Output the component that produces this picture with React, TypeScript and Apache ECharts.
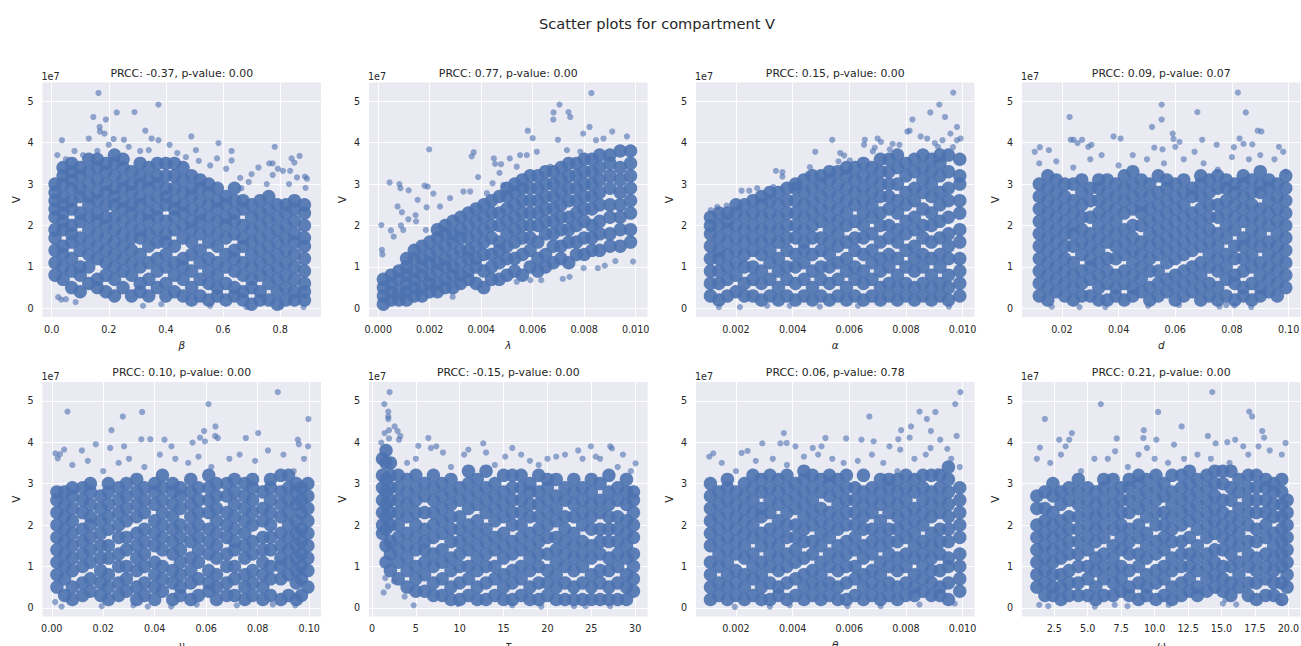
import React, { useEffect, useRef } from "react";
import * as echarts from "echarts";

type Col = [number, number[]];
type Pt = [number, number];

const mainTitle = "Scatter plots for compartment V";
const panelTitles = [
  "PRCC: -0.37, p-value: 0.00", "PRCC: 0.77, p-value: 0.00", "PRCC: 0.15, p-value: 0.00", "PRCC: 0.09, p-value: 0.07",
  "PRCC: 0.10, p-value: 0.00", "PRCC: -0.15, p-value: 0.00", "PRCC: 0.06, p-value: 0.78", "PRCC: 0.21, p-value: 0.00",
];
const xNames = ["β", "λ", "α", "d", "ν", "τ", "θ", "ω"];
const yTicks = [0, 1, 2, 3, 4, 5];
const xTicks = [
  [0, 0.2, 0.4, 0.6, 0.8],
  [0, 0.002, 0.004, 0.006, 0.008, 0.01],
  [0.002, 0.004, 0.006, 0.008, 0.01],
  [0.02, 0.04, 0.06, 0.08, 0.1],
  [0, 0.02, 0.04, 0.06, 0.08, 0.1],
  [0, 5, 10, 15, 20, 25, 30],
  [0.002, 0.004, 0.006, 0.008, 0.01],
  [2.5, 5, 7.5, 10, 12.5, 15, 17.5, 20],
];
const xDecimals = [1, 3, 3, 2, 2, 0, 3, 1];
const xRanges: Pt[] = [[-0.032, 0.943], [-0.00036, 0.01046], [0.00059, 0.01042], [0.0059, 0.1042], [-0.0036, 0.1046], [-0.34, 31.4], [0.00059, 0.01042], [0.09, 20.9]];

// Visibly separate points (V in units of 1e7)
const betaEdge: Pt[] = [[.164,5.2],[.146,4.62],[.168,4.38],[.169,4.27],[.185,4.22],[.19,4.56],[.228,4.73],[.29,4.74],[.374,4.92],[.328,4.29],[.35,4.1],[.374,4.06],[.036,4.06],[.13,4.1],[.217,4.09],[.253,4.07],[.489,4.15],[.584,3.99],[.63,3.8],[.781,3.9],[.868,3.68],[.84,3.62],[.85,3.52],[.762,3.5],[.774,3.5],[.724,3.4],[.792,3.37],[.81,3.32],[.835,3.32],[.7,3.24],[.774,3.22],[.887,3.18],[.859,3.16],[.894,3.13],[.831,3],[.753,3],[.889,2.91],[.505,3.82],[.413,3.95],[.515,3.56],[.555,3.45],[.63,3.57],[.579,3.62],[.611,3.37],[.664,2.9],[.023,.27],[.034,.21],[.084,.15],[.05,.22],[.32,.06],[.384,.1],[.555,.06],[.682,.03],[.803,.04],[.882,.03],[.02,3.7],[.05,3.6],[.08,3.8],[.11,3.7],[.16,3.8],[.2,3.95],[.27,3.9],[.31,3.8],[.34,3.82],[.44,3.75],[.47,3.65],[.66,3.15],[.69,3.05]];
const lambdaEdge: Pt[] = [[.00828,5.2],[.00704,4.92],[.00681,4.73],[.0068,4.56],[.00739,4.74],[.00746,4.62],[.00581,4.29],[.006,4.11],[.00698,4.07],[.00821,4.38],[.00796,4.22],[.00909,4.27],[.00966,4.15],[.00846,4.06],[.00875,4.1],[.00198,3.84],[.00371,3.77],[.00363,3.67],[.00449,3.62],[.00454,3.49],[.00477,3.48],[.00511,3.62],[.00388,3.17],[.00471,3.27],[.00044,3.04],[.00082,3],[.00086,2.9],[.00118,2.85],[.0018,2.96],[.00192,2.94],[.00214,2.77],[.00153,2.62],[.00075,2.46],[.00092,2.32],[.00188,2.44],[.00012,2.01],[.00049,1.88],[.0006,1.73],[.00088,2],[.00097,1.89],[.00117,2.15],[.00147,2.1],[.00145,2.25],[.00014,1.41],[.00016,1.3],[.00289,.28],[.00538,.64],[.00591,.68],[.00717,.71],[.0099,1.13],[.00921,1.14],[.0088,1.03],[.00853,.97],[.00798,.97],[.00743,.76],[.00633,.68],[.00185,1.89],[.0024,2.46],[.00279,2.66],[.00331,2.82],[.00357,2.82],[.00422,2.78],[.00444,3.02],[.00486,2.98],[.00538,3.42],[.00551,3.7],[.00577,3.7],[.00616,3.78],[.00668,3.42],[.00733,3.82],[.00785,3.78]];
const alphaEdge: Pt[] = [[.00967,5.21],[.00918,4.92],[.00886,4.73],[.00938,4.62],[.00823,4.56],[.0098,4.38],[.00813,4.29],[.00805,4.27],[.00957,4.22],[.00852,4.15],[.00875,4.1],[.00929,4.06],[.00902,3.99],[.00913,3.9],[.0054,4.07],[.00655,4.07],[.00652,3.95],[.007,4.1],[.00712,4.02],[.0069,3.88],[.00683,3.79],[.00753,3.97],[.00777,3.95],[.00743,3.84],[.0048,3.78],[.00568,3.75],[.00582,3.69],[.00562,3.55],[.00602,3.57],[.00461,3.41],[.00341,3.32],[.00364,3.29],[.00364,3.18],[.00454,3.24],[.00332,2.93],[.00275,2.9],[.0022,2.84],[.00247,2.84],[.00134,2.45],[.00167,2.48],[.00111,2.37],[.00993,4.1],[.0098,4.06],[.00966,3.89],[.0014,.03],[.00214,.03],[.0039,.06],[.00496,.04],[.00631,.06],[.00952,.04],[.0031,.06]];
const dEdge: Pt[] = [[.0821,5.21],[.0552,4.92],[.0678,4.74],[.0849,4.73],[.0227,4.62],[.0552,4.56],[.0518,4.38],[.0891,4.29],[.0904,4.27],[.0591,4.22],[.0594,4.09],[.0382,4.15],[.0407,4.1],[.0231,4.07],[.0241,4.07],[.0271,4.07],[.0255,3.99],[.0304,3.95],[.0293,3.9],[.0122,3.89],[.0104,3.78],[.0154,3.82],[.0615,4.02],[.0695,4.07],[.0827,4.1],[.0841,3.97],[.0872,3.96],[.0746,3.95],[.0966,3.9],[.0981,3.78],[.0807,3.89],[.0526,3.88],[.0555,3.84],[.0668,3.78],[.06,3.9],[.0756,.04],[.078,.08],[.0262,.03],[.0164,.04],[.0353,.03],[.0504,.06],[.0613,.08],[.0809,.07],[.0868,.03],[.012,3.5],[.018,3.55],[.024,3.4],[.03,3.6],[.034,3.7],[.04,3.45],[.045,3.7],[.05,3.6],[.056,3.5],[.063,3.6],[.07,3.5],[.075,3.35],[.08,3.65],[.086,3.6],[.09,3.7],[.095,3.6],[.099,3.3]];
const nuEdge: Pt[] = [[.0878,5.21],[.0609,4.92],[.0061,4.74],[.0351,4.73],[.0276,4.62],[.0997,4.56],[.0636,4.38],[.0232,4.29],[.0592,4.27],[.0802,4.22],[.0635,4.15],[.0645,4.1],[.0576,4.11],[.0754,4.1],[.0956,4.06],[.0348,4.07],[.0383,4.07],[.0438,4.06],[.0595,4.02],[.0547,3.99],[.096,3.95],[.0171,3.95],[.0281,3.9],[.0465,3.9],[.0996,3.9],[.0227,3.86],[.0048,3.82],[.0117,3.8],[.0014,3.73],[.0032,3.71],[.0023,3.61],[.0013,.14],[.0038,.03],[.0194,.04],[.0373,.03],[.0464,.03],[.0719,.06],[.0946,.06],[.0317,.06],[.0563,.08],[.0859,.08],[.008,3.45],[.014,3.55],[.02,3.3],[.026,3.5],[.03,3.6],[.036,3.4],[.042,3.7],[.048,3.6],[.053,3.5],[.057,3.65],[.062,3.4],[.069,3.6],[.073,3.7],[.079,3.55],[.084,3.8],[.09,3.7],[.094,3.3],[.098,3.6]];
const tauEdge: Pt[] = [[2.01,5.21],[1.41,4.92],[1.86,4.74],[1.86,4.62],[1.86,4.56],[2.58,4.38],[1.94,4.29],[2.92,4.27],[1.44,4.22],[3.23,4.15],[1.94,4.09],[3.08,4.06],[1.06,3.99],[6.42,4.1],[12.68,3.97],[5.28,3.91],[24.95,3.9],[27.15,3.9],[15.99,3.86],[27.35,3.85],[6.72,3.86],[7.33,3.9],[8.09,3.75],[10.98,3.82],[15.19,3.65],[28.6,3.7],[30.04,3.49],[1.33,.37],[4.75,.06],[1.82,.52],[9.8,.09],[19.29,.03],[27.15,.04],[15.99,.06],[23.02,.04],[24.34,.04],[3.72,.27],[2.51,.64],[1.52,.72],[4,3.5],[5,3.6],[9,3.4],[10.5,3.7],[13,3.75],[14,3.45],[17,3.7],[18,3.55],[19,3.45],[20,3.6],[21,3.65],[22,3.7],[23.5,3.8],[24,3.6],[25.5,3.65],[26,3.6],[28,3.4],[29.5,3.3]];
const thetaEdge: Pt[] = [[.00992,5.21],[.00974,4.92],[.00848,4.74],[.00904,4.73],[.00671,4.62],[.00874,4.56],[.00818,4.38],[.00783,4.29],[.00888,4.27],[.00369,4.22],[.00979,4.15],[.00813,4.11],[.00921,4.06],[.00773,4.07],[.00589,4.09],[.00516,4.1],[.00643,4.06],[.00686,4.02],[.00293,3.97],[.00357,3.97],[.00379,3.98],[.0041,3.9],[.00471,3.86],[.00502,3.9],[.00742,3.9],[.00887,3.86],[.0078,3.82],[.00946,3.84],[.00106,3.65],[.0012,3.73],[.0022,3.74],[.00241,3.79],[.00711,.04],[.00972,.1],[.00848,.08],[.00594,.04],[.00196,.02],[.0039,.06],[.0032,.03],[.0015,3.5],[.002,3.3],[.0027,3.55],[.0033,3.6],[.0038,3.45],[.0044,3.65],[.0049,3.7],[.0054,3.6],[.0058,3.5],[.0063,3.55],[.0068,3.7],[.0072,3.5],[.0077,3.3],[.0083,3.6],[.0087,3.7],[.0091,3.3],[.0096,3.6],[.0099,3.4]];
const omegaEdge: Pt[] = [[14.31,5.21],[5.98,4.92],[10.26,4.73],[17.07,4.74],[17.29,4.62],[1.8,4.56],[12.02,4.38],[9.19,4.29],[18.04,4.27],[3.82,4.22],[13.98,4.15],[18.18,4.11],[7.17,4.09],[2.87,4.06],[3.62,4.06],[9.16,4.1],[10.13,4.06],[16.02,4.06],[15.43,4],[14.56,3.97],[19.78,3.98],[11.45,3.94],[1.43,3.87],[9.43,3.86],[3.35,3.9],[7.05,3.78],[16.62,3.9],[17.76,3.9],[15.1,.1],[16.1,.08],[15.3,.2],[2.05,.04],[5.53,.03],[7.97,.04],[1.38,.07],[11.05,.07],[7.02,.07],[19.45,.13],[1.2,3.6],[2.2,3.5],[3,3.7],[4.5,3.3],[5.5,3.6],[6.5,3.6],[8,3.4],[8.8,3.7],[10,3.6],[11,3.5],[12.2,3.6],[13.2,3.7],[14.2,3.6],[15.6,3.5],[17,3.7],[18.6,3.8],[19.5,3.7]];

// Dense areas: individual points cannot be told apart there, so these are
// columns of rough readings of where the cloud lies (V in units of 1e7)
const betaBody: Col[] = [
[.012,[.8,1.1,1.4,1.7,1.9,2.2,2.4,2.6,2.8,3]],[.04,[.7,1,1.3,1.5,1.9,2.1,2.3,2.5,2.7,3,3.2,3.4]],[.07,[.5,.9,1.2,1.6,1.8,2,2.4,2.6,2.9,3.1,3.3,3.5]],[.1,[.4,.8,1,1.4,1.7,2.1,2.3,2.7,2.9,3.2,3.4]],[.13,[.6,1,1.3,1.6,1.9,2.2,2.5,2.7,3,3.3,3.6]],[.16,[.5,.7,1.2,1.5,1.8,2.1,2.3,2.6,2.8,3.1,3.4,3.6]],[.19,[.4,.8,1.1,1.4,1.7,2,2.2,2.5,2.8,3,3.3,3.5]],[.22,[.3,.7,1,1.3,1.6,1.9,2.2,2.5,2.7,2.9,3.2,3.5,3.7]],[.25,[.5,.9,1.2,1.5,1.8,2.1,2.4,2.6,2.9,3.1,3.4,3.6]],[.28,[.3,.8,1.1,1.4,1.7,2,2.3,2.5,2.8,3,3.3]],[.31,[.4,.6,1,1.3,1.7,1.9,2.2,2.5,2.7,3,3.2,3.5]],[.34,[.3,.7,1.1,1.5,1.8,2.1,2.3,2.6,2.9,3.1,3.4]],[.37,[.5,.9,1.2,1.6,1.9,2.2,2.4,2.7,3,3.2,3.5]],[.4,[.3,.6,1,1.3,1.6,1.8,2.1,2.5,2.7,2.9,3.2,3.5]],[.43,[.4,.8,1.1,1.5,1.9,2.2,2.4,2.6,2.9,3.2,3.5]],[.46,[.3,.7,1,1.2,1.7,2,2.3,2.5,2.8,3.1,3.4]],[.49,[.2,.5,.9,1.3,1.6,1.9,2.1,2.4,2.7,2.9,3.2]],[.52,[.3,.7,1.1,1.4,1.8,2.1,2.3,2.6,2.9,3.1]],[.55,[.2,.6,.9,1.2,1.6,1.9,2.2,2.5,2.8,3]],[.58,[.3,.5,.8,1.1,1.5,1.8,2.1,2.4,2.6,2.9]],[.61,[.2,.6,1,1.3,1.7,2,2.2,2.5,2.7]],[.64,[.3,.5,.9,1.2,1.4,1.8,2.1,2.3,2.6,2.9]],[.67,[.2,.4,.8,1.1,1.5,1.7,2,2.4,2.6]],[.7,[.1,.5,.7,1,1.3,1.6,1.9,2.2,2.5]],[.73,[.2,.4,.8,1.1,1.4,1.7,2,2.3,2.6]],[.76,[.2,.6,.9,1.2,1.5,1.8,2.1,2.4,2.7]],[.79,[.1,.4,.7,1,1.3,1.6,1.9,2.2,2.5]],[.82,[.2,.5,.8,1.1,1.4,1.7,2,2.3,2.5]],[.85,[.2,.4,.7,1,1.3,1.6,1.8,2.1,2.4,2.6]],[.885,[.2,.4,.6,.9,1.2,1.5,1.7,2,2.3,2.5]]];
const lambdaBody: Col[] = [
[.0002,[.1,.3,.5,.7]],[.0005,[.2,.4,.6,.8]],[.0008,[.2,.4,.7,.9]],[.0011,[.2,.4,.6,.8,1,1.2]],[.0014,[.3,.5,.7,.9,1.2,1.4]],[.0017,[.3,.5,.8,1,1.2,1.5]],[.002,[.4,.6,.8,1.1,1.3,1.6]],[.0023,[.4,.6,.9,1.1,1.4,1.7,1.9]],[.0026,[.5,.7,1,1.2,1.5,1.8,2]],[.0029,[.5,.8,1,1.3,1.6,1.8,2.1]],[.0032,[.6,.8,1.1,1.4,1.7,1.9,2.2]],[.0035,[.7,.9,1.2,1.4,1.7,2,2.3]],[.0038,[.6,1,1.2,1.5,1.8,2.1,2.4]],[.0041,[.5,.9,1.3,1.6,1.9,2.2,2.5]],[.0044,[.7,1,1.3,1.7,2,2.3,2.6]],[.0047,[.7,1.1,1.4,1.6,2,2.3,2.7]],[.005,[.8,1.2,1.5,1.8,2.1,2.4,2.7,2.9]],[.0053,[.9,1.2,1.6,1.9,2.2,2.5,2.8,3]],[.0056,[.8,1.3,1.7,2,2.3,2.6,2.9,3.1]],[.0059,[1,1.4,1.7,2,2.3,2.6,2.9,3.2]],[.0062,[.9,1.2,1.6,2,2.3,2.6,2.9,3.2]],[.0065,[1,1.3,1.8,2.1,2.4,2.7,3,3.3]],[.0068,[1.1,1.5,1.8,2.1,2.4,2.7,3,3.3]],[.0071,[1.2,1.5,1.9,2.2,2.5,2.8,3.1,3.4]],[.0074,[1.1,1.6,1.9,2.2,2.6,2.9,3.2,3.5]],[.0077,[1.3,1.6,2,2.3,2.6,2.9,3.2,3.5]],[.008,[1.3,1.7,2.1,2.4,2.7,3,3.3,3.6]],[.0083,[1.4,1.7,2,2.4,2.7,3,3.3,3.6]],[.0086,[1.4,1.8,2.1,2.5,2.8,3.1,3.4,3.7]],[.009,[1.5,1.8,2.2,2.5,2.9,3.2,3.5,3.7]],[.0094,[1.5,1.9,2.2,2.5,2.8,3.1,3.4,3.8]],[.0098,[1.6,1.9,2.3,2.6,2.9,3.2,3.5,3.8]]];
const alphaBody: Col[] = [
[.0011,[.3,.6,.9,1.2,1.5,1.8,2,2.2]],[.0014,[.2,.6,.9,1.2,1.4,1.7,2,2.3]],[.0017,[.3,.7,1,1.3,1.6,1.9,2.1,2.3]],[.002,[.4,.8,1.1,1.4,1.7,2,2.3,2.5]],[.0023,[.3,.6,1,1.3,1.6,1.9,2.2,2.5]],[.0026,[.3,.7,1,1.4,1.7,2,2.3,2.6]],[.0029,[.2,.6,.9,1.3,1.6,1.9,2.2,2.5,2.7]],[.0032,[.3,.7,1.1,1.4,1.7,2,2.3,2.6,2.8]],[.0035,[.2,.5,.9,1.2,1.6,1.9,2.2,2.5,2.8]],[.0038,[.3,.7,1,1.4,1.7,2,2.3,2.6,2.9]],[.0041,[.2,.6,1,1.3,1.7,2,2.3,2.6,2.9,3]],[.0044,[.3,.7,1.1,1.4,1.6,1.9,2.2,2.5,2.8,3.1]],[.0047,[.2,.5,.9,1.3,1.7,2,2.3,2.6,2.9,3.2]],[.005,[.3,.7,1,1.4,1.7,2.1,2.4,2.7,3,3.2]],[.0053,[.2,.6,1,1.3,1.6,1.9,2.2,2.5,2.8,3.1,3.3]],[.0056,[.3,.7,1.1,1.5,1.8,2.1,2.4,2.7,3,3.3]],[.0059,[.2,.5,.9,1.2,1.6,2,2.3,2.6,2.9,3.2,3.4]],[.0062,[.3,.7,1,1.4,1.7,2.1,2.5,2.8,3.1,3.4]],[.0065,[.2,.6,.9,1.3,1.7,2,2.3,2.6,2.9,3.2,3.5]],[.0068,[.3,.7,1.1,1.4,1.8,2.2,2.5,2.8,3.1,3.4]],[.0071,[.2,.5,.9,1.2,1.6,2,2.3,2.7,3,3.3,3.6]],[.0074,[.3,.6,1,1.3,1.7,2,2.4,2.7,3,3.3,3.6]],[.0077,[.2,.5,.8,1.2,1.6,1.9,2.3,2.6,3,3.4,3.7]],[.008,[.3,.6,1,1.4,1.8,2.1,2.5,2.8,3.2,3.5]],[.0083,[.2,.5,.9,1.2,1.5,1.9,2.2,2.6,2.9,3.3,3.6]],[.0086,[.3,.6,1,1.3,1.7,2,2.4,2.8,3.1,3.4,3.7]],[.0089,[.2,.5,.8,1.2,1.6,2,2.3,2.7,3,3.3,3.6]],[.0092,[.3,.6,1,1.3,1.7,2.1,2.5,2.8,3.2,3.5,3.7]],[.0095,[.2,.5,.8,1.2,1.5,1.8,2.2,2.6,2.9,3.3,3.7]],[.0099,[.3,.6,.9,1.2,1.6,1.9,2.3,2.6,3,3.2,3.6]]];
const dBody: Col[] = [
[.012,[.3,.6,.9,1.2,1.5,1.8,2.1,2.4,2.7,3]],[.015,[.2,.5,.8,1.1,1.4,1.7,2,2.3,2.6,2.9,3.2]],[.018,[.4,.7,1,1.3,1.6,1.9,2.2,2.5,2.8,3.1]],[.021,[.3,.6,.9,1.2,1.5,1.8,2.1,2.4,2.7,3]],[.024,[.2,.5,.8,1.1,1.5,1.8,2,2.3,2.6,3]],[.027,[.3,.6,.9,1.3,1.6,1.9,2.2,2.5,2.8,3.1]],[.03,[.3,.7,1,1.2,1.5,1.8,2.2,2.6,2.9]],[.033,[.2,.5,.8,1.1,1.4,1.7,2,2.3,2.6,2.9,3.1]],[.036,[.2,.6,.9,1.2,1.6,1.9,2.2,2.5,2.8,3.1]],[.039,[.3,.5,.8,1.2,1.5,1.8,2.1,2.4,2.7,3]],[.042,[.2,.6,.9,1.3,1.6,1.9,2.3,2.6,2.9,3.2]],[.045,[.3,.5,.8,1.1,1.4,1.7,2,2.4,2.7,3,3.3]],[.048,[.4,.7,1,1.3,1.6,2,2.3,2.5,2.8,3.1]],[.051,[.2,.5,.9,1.2,1.5,1.8,2.1,2.4,2.7,3]],[.054,[.3,.6,.9,1.3,1.6,1.9,2.2,2.5,2.8,3.2]],[.057,[.4,.7,1.1,1.4,1.7,2,2.3,2.6,2.9,3.1]],[.06,[.2,.5,.8,1.2,1.5,1.8,2.1,2.4,2.7,3]],[.063,[.3,.6,.9,1.3,1.6,1.9,2.2,2.5,2.8,3.1]],[.066,[.4,.7,1,1.4,1.7,2,2.3,2.7,2.9]],[.069,[.2,.5,.8,1.1,1.5,1.8,2.1,2.4,2.7,3,3.2]],[.072,[.3,.6,1,1.3,1.6,1.9,2.2,2.5,2.8,3.1]],[.075,[.2,.5,.9,1.2,1.5,1.8,2.2,2.5,2.9,3.2]],[.078,[.3,.7,1,1.3,1.7,2,2.3,2.6,2.9,3.1]],[.081,[.2,.6,.8,1.2,1.5,1.9,2.2,2.5,2.8,3]],[.084,[.3,.5,.9,1.2,1.5,1.7,2.1,2.4,2.7,3,3.2]],[.087,[.2,.6,1,1.3,1.6,1.9,2.2,2.5,2.8,3.1]],[.09,[.3,.5,.8,1.1,1.5,1.8,2.1,2.4,2.8,3,3.3]],[.093,[.4,.7,1,1.3,1.6,2,2.3,2.6,2.9,3.1]],[.096,[.3,.6,.9,1.2,1.5,1.8,2.1,2.4,2.7,3]],[.099,[.5,.8,1.1,1.4,1.7,2,2.3,2.6,2.9,3.2]]];
const nuBody: Col[] = [
[.002,[.5,.8,1.1,1.4,1.7,2,2.3,2.6,2.8]],[.005,[.3,.7,1,1.3,1.6,1.9,2.2,2.5,2.8]],[.008,[.2,.5,.9,1.2,1.5,1.8,2.1,2.4,2.7,2.9]],[.012,[.3,.6,1,1.3,1.6,1.9,2.3,2.6,2.9]],[.015,[.4,.7,1.1,1.4,1.7,2,2.2,2.5,2.8,3]],[.019,[.3,.6,.9,1.2,1.5,1.8,2.1,2.4,2.7]],[.022,[.2,.5,.8,1.2,1.5,1.9,2.2,2.5,2.8,3]],[.026,[.3,.6,1,1.3,1.7,2,2.3,2.6,2.9]],[.029,[.4,.7,1,1.4,1.7,2.1,2.4,2.7,3]],[.033,[.2,.5,.9,1.2,1.5,1.8,2.2,2.5,2.8,3.1]],[.036,[.3,.6,1,1.3,1.6,1.9,2.3,2.6,2.9]],[.04,[.2,.5,.8,1.1,1.5,1.8,2.1,2.5,2.8,3]],[.043,[.4,.7,1,1.4,1.7,2,2.3,2.6,2.9,3.2]],[.047,[.2,.6,.9,1.3,1.6,1.9,2.2,2.5,2.8,3]],[.05,[.3,.5,.8,1.1,1.4,1.7,2,2.4,2.7,2.9]],[.054,[.2,.6,.9,1.2,1.6,1.9,2.2,2.5,2.8,3.1]],[.057,[.3,.7,1.1,1.4,1.7,2,2.3,2.6,2.9]],[.061,[.4,.6,.9,1.3,1.6,1.9,2.3,2.6,2.9,3.2]],[.064,[.2,.5,.8,1.2,1.5,1.8,2.1,2.4,2.7,3]],[.068,[.3,.6,1,1.3,1.7,2,2.3,2.7,3]],[.071,[.3,.7,1,1.4,1.6,1.9,2.2,2.5,2.8,3.1]],[.075,[.2,.5,.8,1.2,1.5,1.8,2.1,2.4,2.7,3]],[.078,[.3,.6,.9,1.3,1.6,2,2.3,2.6,2.9,3.1]],[.082,[.2,.5,.8,1.1,1.4,1.7,2.1,2.4,2.8]],[.085,[.3,.7,1,1.4,1.7,2,2.3,2.6,2.9,3.1]],[.089,[.2,.7,1,1.2,1.5,1.8,2.2,2.5,2.8,3.2]],[.092,[.3,.8,1.1,1.4,1.7,2,2.3,2.6,2.9,3.2]],[.095,[.2,.6,.9,1.2,1.5,1.8,2.1,2.5,2.8,3]],[.097,[.3,.7,1,1.3,1.6,1.9,2.3,2.6,2.9]],[.0995,[.5,.9,1.2,1.5,1.8,2.1,2.4,2.7,3]]];
const tauBody: Col[] = [
[1.2,[1.8,2,2.3,2.6,2.9,3.2,3.6]],[1.6,[1.1,1.5,1.9,2.2,2.5,2.8,3.1,3.5,3.8]],[2.1,[.9,1.3,1.6,2,2.3,2.6,2.9,3.2,3.5]],[3,[.7,1.1,1.4,1.7,2,2.3,2.6,2.9,3.2]],[4,[.5,.9,1.2,1.5,1.8,2.2,2.5,2.8,3.1]],[5,[.4,.7,1,1.4,1.7,2,2.3,2.6,2.9,3.2]],[6,[.4,.8,1.1,1.4,1.6,1.9,2.3,2.7,3]],[7,[.3,.6,1,1.3,1.7,2,2.3,2.6,2.9,3.2]],[8,[.3,.7,1.1,1.4,1.8,2.1,2.4,2.7,3]],[9,[.2,.5,.9,1.2,1.6,1.9,2.2,2.5,2.8,3.1]],[10,[.2,.6,1,1.3,1.6,1.9,2.2,2.6,2.9]],[11,[.3,.7,1,1.4,1.7,2,2.4,2.7,3,3.3]],[12,[.2,.5,.9,1.2,1.5,1.8,2.1,2.5,2.8,3.1]],[13,[.2,.6,1,1.3,1.6,1.9,2.3,2.6,2.9,3.3]],[14,[.3,.7,1,1.4,1.7,2.1,2.4,2.7,3]],[15,[.2,.5,.8,1.2,1.5,1.8,2.2,2.5,2.8,3.2]],[16,[.2,.6,.9,1.3,1.6,2,2.3,2.6,2.9,3.2]],[17,[.3,.7,1,1.4,1.7,2,2.3,2.6,2.9,3.2]],[18,[.2,.5,.9,1.2,1.5,1.8,2.2,2.5,2.8,3]],[19,[.2,.6,1,1.3,1.6,1.9,2.2,2.5,2.8,3.2]],[20,[.3,.6,.9,1.3,1.7,2,2.3,2.6,2.9,3.1]],[21,[.2,.5,.8,1.1,1.4,1.7,2.1,2.4,2.7,3.1]],[22,[.2,.6,1,1.3,1.6,1.9,2.2,2.6,2.9]],[23,[.2,.5,.9,1.2,1.5,1.8,2.2,2.5,2.8,3.1]],[24,[.2,.6,1,1.3,1.6,2,2.3,2.6,2.9]],[25,[.2,.5,.8,1.2,1.5,1.9,2.2,2.5,2.8,3.1]],[26,[.2,.6,.9,1.3,1.6,1.9,2.3,2.6,3]],[27,[.2,.5,.9,1.2,1.6,1.9,2.2,2.5,2.8,3.2]],[28,[.2,.6,1,1.3,1.6,1.9,2.2,2.6,2.9]],[29,[.2,.5,.8,1.2,1.5,1.8,2.1,2.5,2.8,3.1]],[29.8,[.4,.7,1,1.3,1.7,2,2.3,2.6,2.8]]];
const thetaBody: Col[] = [
[.0011,[.2,.5,.8,1.1,1.5,1.8,2.1,2.4,2.7,3]],[.0014,[.3,.6,1,1.3,1.6,1.9,2.2,2.5,2.8]],[.0017,[.2,.5,.8,1.1,1.4,1.7,2,2.3,2.6,2.9,3.1]],[.002,[.3,.6,.9,1.3,1.6,1.9,2.2,2.5,2.8]],[.0023,[.2,.5,.8,1.2,1.5,1.8,2.1,2.4,2.7,3]],[.0026,[.3,.7,1,1.3,1.7,2,2.3,2.6,2.9,3.2]],[.0029,[.2,.5,.8,1.1,1.5,1.8,2.2,2.4,2.8,3.1]],[.0032,[.2,.6,1,1.3,1.6,1.9,2.3,2.6,2.9,3.2]],[.0035,[.3,.5,.9,1.2,1.5,1.8,2.1,2.5,2.8,3.1]],[.0038,[.2,.6,1,1.3,1.7,2,2.3,2.6,2.9,3.2]],[.0041,[.3,.7,1.1,1.4,1.7,2,2.4,2.7,3]],[.0044,[.2,.5,.8,1.2,1.6,1.9,2.2,2.5,2.8,3.1,3.3]],[.0047,[.3,.6,.9,1.3,1.6,2,2.3,2.6,2.9,3.2]],[.005,[.2,.5,.8,1.1,1.5,1.8,2.1,2.4,2.8,3.1]],[.0053,[.3,.6,1,1.3,1.7,2,2.3,2.7,3,3.2]],[.0056,[.2,.5,.9,1.2,1.5,1.9,2.2,2.5,2.8,3.1]],[.0059,[.2,.6,1,1.3,1.6,2,2.3,2.6,2.9,3.2]],[.0062,[.3,.7,1,1.4,1.7,2,2.3,2.6,2.9]],[.0065,[.2,.5,.8,1.2,1.5,1.9,2.2,2.5,2.8,3.2]],[.0068,[.3,.6,.9,1.3,1.6,1.9,2.3,2.6,2.9]],[.0071,[.2,.5,.8,1.1,1.5,1.8,2.1,2.5,2.8,3.1]],[.0074,[.3,.6,1,1.3,1.6,1.9,2.3,2.6,2.9,3.1]],[.0077,[.2,.5,.9,1.2,1.6,1.9,2.2,2.5,2.8,3.1]],[.008,[.3,.6,1,1.3,1.7,2,2.3,2.6,2.9,3.2]],[.0083,[.3,.5,.8,1.2,1.5,1.8,2.1,2.4,2.8,3.1]],[.0086,[.4,.7,1,1.3,1.6,2,2.3,2.6,2.9,3.2]],[.0089,[.3,.6,.9,1.2,1.5,1.8,2.2,2.5,2.8,3.2]],[.0092,[.3,.5,.9,1.3,1.6,1.9,2.3,2.6,2.9,3.2]],[.0095,[.2,.6,1,1.2,1.6,1.9,2.2,2.5,2.8,3.1,3.4]],[.0099,[.4,.7,1,1.3,1.7,2,2.3,2.6,2.9]]];
const omegaBody: Col[] = [
[1.2,[.5,.8,1.1,1.4,1.7,2,2.4,2.7]],[1.8,[.3,.6,.9,1.2,1.5,1.8,2.1,2.4,2.8]],[2.4,[.3,.5,.8,1.1,1.4,1.7,2,2.3,2.7,3]],[3,[.2,.5,.8,1.2,1.5,1.8,2.1,2.5,2.8]],[3.6,[.3,.6,.9,1.3,1.6,1.9,2.2,2.6,2.9]],[4.3,[.3,.6,1,1.3,1.6,1.9,2.2,2.5,2.8,3.1]],[5,[.3,.7,1,1.4,1.7,2,2.3,2.6,2.9]],[5.6,[.2,.5,.9,1.2,1.6,1.9,2.2,2.5,2.8]],[6.2,[.3,.7,1,1.3,1.7,2,2.3,2.6,2.9,3.1]],[6.9,[.3,.6,.9,1.2,1.5,1.9,2.2,2.5,2.8,3.1]],[7.5,[.4,.7,1,1.4,1.7,2,2.3,2.6,2.9]],[8.1,[.3,.5,.9,1.3,1.6,1.9,2.3,2.6,2.9,3.1]],[8.8,[.2,.6,1,1.3,1.7,2,2.4,2.7,3,3.2]],[9.4,[.3,.5,.8,1.2,1.5,1.8,2.2,2.5,2.8,3.1]],[10.1,[.2,.6,.9,1.3,1.6,2,2.3,2.6,2.9,3.2]],[10.7,[.3,.7,1,1.4,1.7,2,2.3,2.7,3]],[11.3,[.2,.5,.9,1.2,1.6,1.9,2.2,2.5,2.8,3.2]],[12,[.3,.6,1,1.3,1.6,2,2.3,2.6,2.9,3.2]],[12.6,[.4,.7,1,1.3,1.7,2.1,2.4,2.7,3,3.3]],[13.2,[.3,.5,.9,1.2,1.5,1.9,2.2,2.5,2.8,3.1]],[13.9,[.4,.7,1,1.3,1.7,2,2.3,2.6,2.9,3.2]],[14.5,[.5,.8,1.1,1.4,1.8,2.1,2.4,2.7,3,3.3]],[15.1,[.4,.7,1,1.4,1.7,2,2.3,2.6,3,3.3]],[15.7,[.3,.6,1,1.3,1.6,1.9,2.2,2.6,2.9,3.3]],[16.3,[.5,.8,1.1,1.5,1.8,2.1,2.4,2.8,3.1]],[17,[.3,.6,1,1.3,1.6,2,2.3,2.6,2.9,3.2]],[17.6,[.2,.6,.9,1.2,1.6,1.9,2.3,2.6,2.9,3.2]],[18.3,[.3,.7,1,1.3,1.7,2,2.3,2.6,2.9,3.1]],[18.9,[.3,.6,.9,1.2,1.5,1.8,2.2,2.5,2.8,3]],[19.5,[.2,.6,1,1.3,1.6,1.9,2.2,2.5,2.8,3.1]],[19.9,[.5,.8,1.1,1.4,1.7,2,2.3,2.6]]];

const edges = [betaEdge, lambdaEdge, alphaEdge, dEdge, nuEdge, tauEdge, thetaEdge, omegaEdge];
const bodies = [betaBody, lambdaBody, alphaBody, dBody, nuBody, tauBody, thetaBody, omegaBody];

const columnsX = [42.5, 369, 696, 1022];
const rowsY = [82.5, 382];
const plotW = 278.5;
const plotH = 234.5;
const ink = "#262626";
const blue = "#4C72B0";
const font = "DejaVu Sans";

function App() {
  const ref = useRef<HTMLDivElement>(null);
  useEffect(() => {
    if (!ref.current) return;
    const chart = echarts.init(ref.current, undefined, { renderer: "svg" });
    const idx = xNames.map((_, i) => i);
    const rowOf = (i: number) => Math.floor(i / 4);
    const colOf = (i: number) => i % 4;
    chart.setOption({
      animation: false,
      backgroundColor: "#fff",
      title: [
        { text: mainTitle, left: 657, top: 16, padding: 0, textAlign: "center", textStyle: { fontFamily: font, fontSize: 14.6, fontWeight: "normal", color: ink } },
        ...idx.map((i) => ({
          text: panelTitles[i],
          left: columnsX[colOf(i)] + plotW / 2,
          top: rowsY[rowOf(i)] - 15,
          padding: 0,
          textAlign: "center",
          textStyle: { fontFamily: font, fontSize: 10.9, fontWeight: "normal", color: ink },
        })),
      ],
      graphic: idx.map((i) => ({
        type: "text",
        x: columnsX[colOf(i)] - 1,
        y: rowsY[rowOf(i)] - 11,
        style: { text: "1e7", fontFamily: font, fontSize: 9.6, fill: ink },
      })),
      grid: idx.map((i) => ({
        left: columnsX[colOf(i)], top: rowsY[rowOf(i)], width: plotW, height: plotH,
        backgroundColor: "#EAEAF2", show: true, borderWidth: 0, outerBoundsMode: "none",
      })),
      xAxis: idx.map((i) => ({
        type: "value", gridIndex: i, min: xRanges[i][0], max: xRanges[i][1],
        name: xNames[i], nameLocation: "middle", nameGap: 23,
        nameTextStyle: { fontFamily: font, fontSize: 10.4, fontStyle: "italic", color: ink },
        axisLine: { show: false },
        axisTick: { show: false, customValues: xTicks[i] },
        splitLine: { show: true, lineStyle: { color: "#fff", width: 1 } },
        axisLabel: {
          customValues: xTicks[i], margin: 7, fontFamily: font, fontSize: 9.6, color: ink,
          showMinLabel: true, showMaxLabel: true,
          formatter: (v: number) => v.toFixed(xDecimals[i]),
        },
      })),
      yAxis: idx.map((i) => ({
        type: "value", gridIndex: i, min: -0.21, max: 5.454,
        name: "V", nameLocation: "middle", nameGap: 22, nameRotate: 90,
        nameTextStyle: { fontFamily: font, fontSize: 10.4, color: ink },
        axisLine: { show: false },
        axisTick: { show: false, customValues: yTicks },
        splitLine: { show: true, lineStyle: { color: "#fff", width: 1 } },
        axisLabel: { customValues: yTicks, margin: 9, fontFamily: font, fontSize: 9.6, color: ink, formatter: (v: number) => String(v) },
      })),
      series: idx.flatMap((i) => [
        {
          type: "scatter", xAxisIndex: i, yAxisIndex: i, symbolSize: 13.5,
          itemStyle: { color: blue, opacity: 0.9 },
          data: bodies[i].flatMap(([x, ys]) => ys.map((y) => [x, y])),
        },
        {
          type: "scatter", xAxisIndex: i, yAxisIndex: i, symbolSize: 6.2,
          itemStyle: { color: blue, opacity: 0.6 },
          data: edges[i],
        },
      ]),
    });
    return () => chart.dispose();
  }, []);
  return <div ref={ref} style={{ position: "fixed", left: 0, top: 0, width: 1301, height: 646 }} />;
}

export default App;
